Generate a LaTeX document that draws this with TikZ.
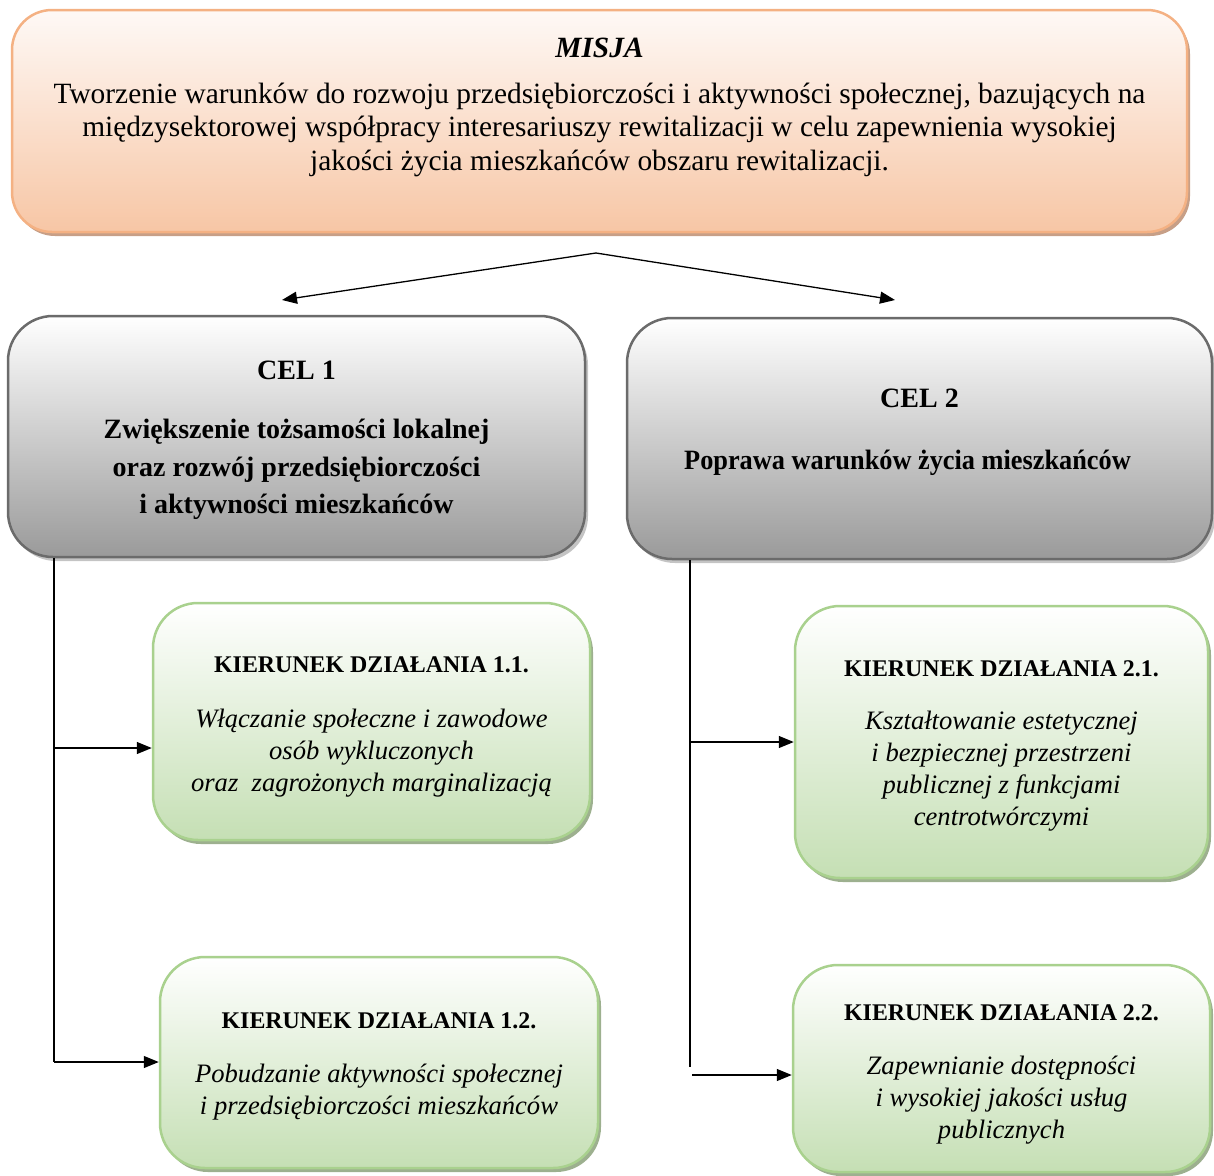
\documentclass[tikz,border=0pt]{standalone}
\usepackage{fontspec}
\usepackage{graphicx}
\setmainfont{Liberation Serif}
\usetikzlibrary{arrows.meta,shadows}

\definecolor{misjaline}{HTML}{F4B183}
\definecolor{misjatop}{HTML}{FEF9F6}
\definecolor{misjabot}{HTML}{F7C6A5}
\definecolor{misjashadow}{HTML}{C79F87}
\definecolor{celline}{HTML}{6B6B6B}
\definecolor{celmid}{HTML}{DDDDDD}
\definecolor{celbot}{HTML}{9A9A9A}
\definecolor{celshadow}{HTML}{C4C4C4}
\definecolor{kdline}{HTML}{A9D18E}
\definecolor{kdmid}{HTML}{E6F0DE}
\definecolor{kdbot}{HTML}{C5DFB4}
\definecolor{kdshadow}{HTML}{9DB08F}

\newcommand{\kdheading}[2]{{\rule{0pt}{#1}\fontsize{23.9}{32}\selectfont\bfseries\upshape #2}}

\tikzset{
  misjabox/.style={draw=misjaline, line width=2.5pt, rounded corners=40pt,
    top color=misjatop, bottom color=misjabot, align=center,
    drop shadow={shadow xshift=3pt, shadow yshift=-4pt, fill=misjashadow, opacity=1},
    font=\fontsize{29.4}{33.5}\selectfont},
  celbox/.style={draw=celline, line width=2.5pt, rounded corners=45pt,
    top color=white, middle color=celmid, bottom color=celbot, align=center,
    drop shadow={shadow xshift=3pt, shadow yshift=-4pt, fill=celshadow, opacity=1},
    font=\fontsize{28}{37.5}\selectfont\bfseries},
  kdbox/.style={draw=kdline, line width=2.5pt, rounded corners=45pt,
    top color=white, middle color=kdmid, bottom color=kdbot, align=center,
    drop shadow={shadow xshift=3pt, shadow yshift=-4pt, fill=kdshadow, opacity=1},
    font=\fontsize{26.6}{32}\selectfont\itshape},
  arr/.style={-{Triangle[length=15pt,width=12pt]}, line width=1.3pt},
}

\begin{document}
\begin{tikzpicture}[x=1pt,y=-1pt]
\useasboundingbox (0,0) rectangle (1214,1175);

% mission
\node (misja) [misjabox, minimum width=1175pt, minimum height=222pt] at (599.5,121)
  {\textbf{\textit{MISJA}}\\[12.5pt]
   Tworzenie warunków do rozwoju przedsiębiorczości i aktywności społecznej, bazujących na\\
   międzysektorowej współpracy interesariuszy rewitalizacji w celu zapewnienia wysokiej\\
   jakości życia mieszkańców obszaru rewitalizacji.\\ \mbox{}};

% goals
\node (cel1) [celbox, minimum width=577pt, minimum height=241pt] at (296.5,436.5)
  {\rule{0pt}{26.5pt}CEL 1\\[21.5pt]
   Zwiększenie tożsamości lokalnej\\
   oraz rozwój przedsiębiorczości\\
   i aktywności mieszkańców};
\node (cel2) [celbox, minimum width=585pt, minimum height=241pt] at (919.5,438.5)
  {CEL 2\\[24.5pt]
   \mbox{\scalebox{0.94}[1]{Poprawa warunków życia mieszkańców}\kern24pt}\\[-18pt] \mbox{}};

% directions
\node (kd11) [kdbox, minimum width=437pt, minimum height=237pt] at (371.5,721.5)
  {\kdheading{25.8pt}{KIERUNEK DZIAŁANIA 1.1.}\\[23pt]
   Włączanie społeczne i zawodowe\\
   osób wykluczonych\\
   oraz\ \ zagrożonych marginalizacją};
\node (kd12) [kdbox, minimum width=438pt, minimum height=211pt] at (379,1062.5)
  {\kdheading{22.8pt}{KIERUNEK DZIAŁANIA 1.2.}\\[22pt]
   Pobudzanie aktywności społecznej\\
   i przedsiębiorczości mieszkańców};
\node (kd21) [kdbox, minimum width=413pt, minimum height=272pt] at (1001.5,742)
  {\kdheading{23.8pt}{KIERUNEK DZIAŁANIA 2.1.}\\[21pt]
   Kształtowanie estetycznej\\
   i bezpiecznej przestrzeni\\
   publicznej z funkcjami\\
   centrotwórczymi};
\node (kd22) [kdbox, minimum width=417pt, minimum height=207pt] at (1001.5,1068.5)
  {\kdheading{26.8pt}{KIERUNEK DZIAŁANIA 2.2.}\\[22pt]
   Zapewnianie dostępności\\
   i wysokiej jakości usług\\
   publicznych};

% split arrows
\coordinate (apex) at (596,253);
\coordinate (tip1) at (282,300);
\coordinate (tip2) at (895,300);
\draw[arr] (apex) -- (tip1);
\draw[arr] (apex) -- (tip2);

% left branch
\coordinate (t1) at (54,1062);
\coordinate (j11) at (54,748);
\draw[line width=1.3pt] (t1 |- cel1.south) -- (t1);
\draw[arr] (j11) -- (j11 -| kd11.west);
\draw[arr] (t1) -- (t1 -| kd12.west);

% right branch
\coordinate (t2) at (690,1067);
\coordinate (j21) at (690,742);
\coordinate (j22) at (692,1075);
\draw[line width=1.3pt] (t2 |- cel2.south) -- (t2);
\draw[arr] (j21) -- (j21 -| kd21.west);
\draw[arr] (j22) -- (j22 -| kd22.west);

\end{tikzpicture}
\end{document}
